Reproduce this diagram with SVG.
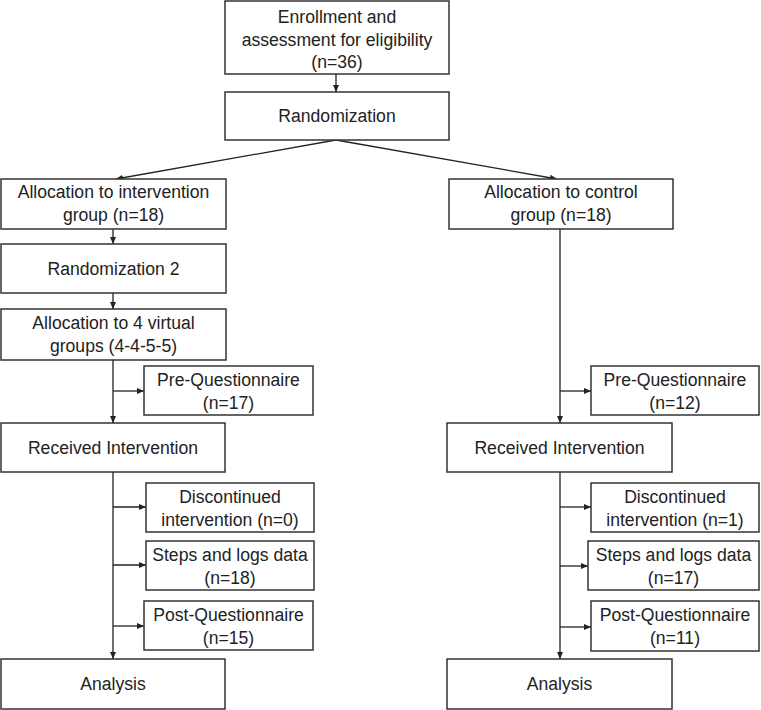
<svg xmlns="http://www.w3.org/2000/svg" width="761" height="710" viewBox="0 0 761 710">
<defs>
<style>
.box{fill:#fff;stroke:#333;stroke-width:1.5}
.t{font-family:"Liberation Sans",Arial,sans-serif;font-size:17.6px;fill:#222;text-anchor:middle}
.c{stroke:#222;stroke-width:1.3;fill:none}
</style>
<marker id="ah" markerWidth="8" markerHeight="8" refX="7" refY="4" orient="auto" markerUnits="userSpaceOnUse">
<path d="M0,1 L7,4 L0,7 Z" fill="#222"/>
</marker>
</defs>
<rect width="761" height="710" fill="#fff"/>
<g id="connectors">
<line class="c" x1="336" y1="74" x2="336" y2="92" marker-end="url(#ah)"/>
<line class="c" x1="336" y1="140" x2="116" y2="179" marker-end="url(#ah)"/>
<line class="c" x1="336" y1="140" x2="557" y2="179" marker-end="url(#ah)"/>
<line class="c" x1="113" y1="229" x2="113" y2="244" marker-end="url(#ah)"/>
<line class="c" x1="113" y1="293" x2="113" y2="309" marker-end="url(#ah)"/>
<line class="c" x1="113" y1="360" x2="113" y2="423" marker-end="url(#ah)" stroke="#777"/>
<line class="c" x1="113" y1="391" x2="144" y2="391" marker-end="url(#ah)"/>
<line class="c" x1="113" y1="472" x2="113" y2="659" marker-end="url(#ah)"/>
<line class="c" x1="113" y1="507" x2="146" y2="507" marker-end="url(#ah)"/>
<line class="c" x1="113" y1="565" x2="146" y2="565" marker-end="url(#ah)"/>
<line class="c" x1="113" y1="626" x2="144" y2="626" marker-end="url(#ah)"/>
<line class="c" x1="560" y1="229" x2="560" y2="423" marker-end="url(#ah)"/>
<line class="c" x1="560" y1="391" x2="591" y2="391" marker-end="url(#ah)"/>
<line class="c" x1="560" y1="472" x2="560" y2="659" marker-end="url(#ah)"/>
<line class="c" x1="560" y1="507" x2="591" y2="507" marker-end="url(#ah)"/>
<line class="c" x1="560" y1="566" x2="588" y2="566" marker-end="url(#ah)"/>
<line class="c" x1="560" y1="627" x2="591" y2="627" marker-end="url(#ah)"/>
</g>
<g id="enroll"><rect class="box" x="225" y="1" width="224" height="73"/>
<text class="t" x="337" y="23">Enrollment and</text><text class="t" x="337" y="45.5">assessment for eligibility</text><text class="t" x="337" y="68">(n=36)</text></g>
<g id="rand"><rect class="box" x="225" y="92" width="224" height="48"/><text class="t" x="337" y="122">Randomization</text></g>
<g id="alloc-int"><rect class="box" x="1" y="179" width="225" height="50"/>
<text class="t" x="113.5" y="198">Allocation to intervention</text><text class="t" x="113.5" y="221">group (n=18)</text></g>
<g id="alloc-ctl"><rect class="box" x="449" y="179" width="224" height="50"/>
<text class="t" x="561" y="198">Allocation to control</text><text class="t" x="561" y="221">group (n=18)</text></g>
<g id="rand2"><rect class="box" x="1" y="244" width="225" height="49"/><text class="t" x="113.5" y="274.5">Randomization 2</text></g>
<g id="alloc4"><rect class="box" x="1" y="309" width="225" height="51"/>
<text class="t" x="113.5" y="329">Allocation to 4 virtual</text><text class="t" x="113.5" y="352">groups (4-4-5-5)</text></g>
<g id="preq-l"><rect class="box" x="144" y="366" width="169" height="49"/>
<text class="t" x="228.5" y="386">Pre-Questionnaire</text><text class="t" x="228.5" y="409">(n=17)</text></g>
<g id="preq-r"><rect class="box" x="591" y="366" width="168" height="49"/>
<text class="t" x="675" y="386">Pre-Questionnaire</text><text class="t" x="675" y="409">(n=12)</text></g>
<g id="recv-l"><rect class="box" x="1" y="423" width="224" height="49"/><text class="t" x="113" y="454">Received Intervention</text></g>
<g id="recv-r"><rect class="box" x="447" y="423" width="225" height="49"/><text class="t" x="559.5" y="454">Received Intervention</text></g>
<g id="disc-l"><rect class="box" x="146" y="483" width="168" height="49"/>
<text class="t" x="230" y="503">Discontinued</text><text class="t" x="230" y="526">intervention (n=0)</text></g>
<g id="disc-r"><rect class="box" x="591" y="483" width="168" height="49"/>
<text class="t" x="675" y="503">Discontinued</text><text class="t" x="675" y="526">intervention (n=1)</text></g>
<g id="steps-l"><rect class="box" x="146" y="541" width="168" height="49"/>
<text class="t" x="230" y="561">Steps and logs data</text><text class="t" x="230" y="584">(n=18)</text></g>
<g id="steps-r"><rect class="box" x="588" y="541" width="171" height="49"/>
<text class="t" x="673.5" y="561">Steps and logs data</text><text class="t" x="673.5" y="584">(n=17)</text></g>
<g id="postq-l"><rect class="box" x="144" y="601" width="169" height="49"/>
<text class="t" x="228.5" y="621">Post-Questionnaire</text><text class="t" x="228.5" y="644">(n=15)</text></g>
<g id="postq-r"><rect class="box" x="591" y="601" width="168" height="50"/>
<text class="t" x="675" y="621">Post-Questionnaire</text><text class="t" x="675" y="644">(n=11)</text></g>
<g id="anal-l"><rect class="box" x="1" y="659" width="224" height="50"/><text class="t" x="113" y="690">Analysis</text></g>
<g id="anal-r"><rect class="box" x="447" y="659" width="225" height="50"/><text class="t" x="559.5" y="690">Analysis</text></g>
</svg>
